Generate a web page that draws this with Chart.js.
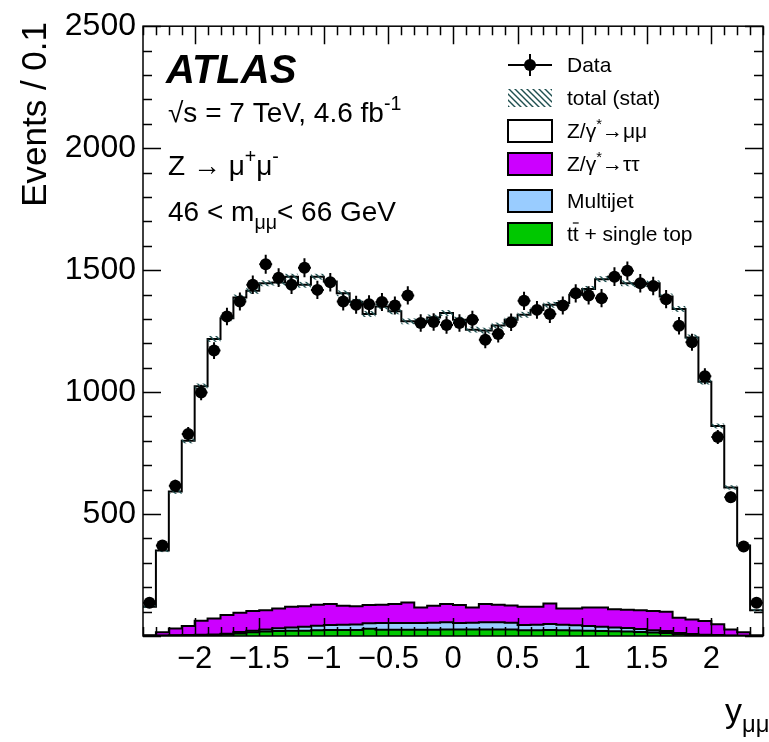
<!DOCTYPE html>
<html>
<head>
<meta charset="utf-8">
<script src="https://cdn.jsdelivr.net/npm/chart.js@4.4.0/dist/chart.umd.min.js"></script>
<style>
  html, body { margin: 0; padding: 0; background: #fff; }
  #wrap { width: 769px; height: 742px; }
</style>
</head>
<body>
<div id="wrap"><canvas id="grafico" width="769" height="742"></canvas></div>
<script>
// bins of rapidity y_mumu, width 0.1
const binEdges = [
  -2.4, -2.3, -2.2, -2.1, -2.0, -1.9, -1.8, -1.7, -1.6, -1.5, -1.4, -1.3, -1.2,
  -1.1, -1.0, -0.9, -0.8, -0.7, -0.6, -0.5, -0.4, -0.3, -0.2, -0.1, 0.0,
  0.1, 0.2, 0.3, 0.4, 0.5, 0.6, 0.7, 0.8, 0.9, 1.0, 1.1, 1.2,
  1.3, 1.4, 1.5, 1.6, 1.7, 1.8, 1.9, 2.0, 2.1, 2.2, 2.3, 2.4,
];

const dataEvents = [
  136, 371, 616, 828, 998, 1170, 1310, 1371, 1440, 1524, 1469, 1440,
  1510, 1419, 1450, 1371, 1358, 1360, 1369, 1355, 1396, 1283, 1287, 1275,
  1283, 1297, 1215, 1238, 1286, 1374, 1337, 1320, 1355, 1405, 1396, 1385,
  1473, 1497, 1446, 1435, 1381, 1272, 1204, 1065, 816, 569, 367, 136,
];

const zmumu = [
  117, 336, 561, 759, 961, 1146, 1217, 1293, 1313, 1340, 1336, 1353,
  1318, 1345, 1322, 1281, 1248, 1193, 1223, 1200, 1153, 1173, 1182, 1193,
  1170, 1139, 1121, 1145, 1172, 1197, 1217, 1225, 1252, 1286, 1306, 1346,
  1363, 1338, 1336, 1343, 1293, 1266, 1156, 981, 813, 582, 356, 103,
];

const ztautau = [
  2, 13, 28, 37, 58, 66, 77, 79, 80, 79, 81, 85,
  84, 86, 86, 78, 75, 75, 75, 78, 84, 64, 70, 75,
  74, 63, 75, 72, 71, 75, 74, 84, 67, 69, 76, 79,
  75, 75, 77, 79, 79, 63, 60, 56, 44, 25, 14, 3,
];

const multijet = [
  1, 1, 1, 2, 2, 2, 3, 6, 7, 9, 12, 13,
  16, 18, 20, 21, 22, 22, 27, 27, 27, 27, 28, 29,
  26, 27, 29, 29, 27, 21, 22, 24, 22, 21, 19, 17,
  16, 15, 13, 10, 8, 5, 4, 2, 2, 1, 0, 0,
];

const ttbar = [
  0, 1, 2, 2, 3, 4, 6, 10, 15, 18, 20, 22,
  22, 24, 25, 25, 25, 30, 26, 26, 26, 26, 26, 27,
  27, 27, 27, 27, 27, 24, 24, 25, 24, 23, 22, 21,
  19, 18, 16, 14, 12, 7, 4, 3, 2, 1, 1, 0,
];

// MC statistical uncertainty (half width of hatched band)
const mcStatErr = [
  5, 7, 9, 10, 11, 12, 12, 12, 12, 12, 12, 12,
  12, 12, 12, 12, 12, 12, 12, 12, 12, 12, 12, 12,
  12, 12, 12, 12, 12, 12, 12, 12, 12, 12, 12, 12,
  12, 12, 12, 12, 12, 12, 12, 11, 10, 9, 7, 5,
];

const yTickLabels = [0, 500, 1000, 1500, 2000, 2500];
const xTickLabels = [-2, -1.5, -1, -0.5, 0, 0.5, 1, 1.5, 2];

const colores = {
  ttbar: "#00c800",
  multijet: "#99ccff",
  ztautau: "#cc00ff",
  zmumu: "#ffffff",
  hatch: "#1f4f4f",
};

const FONT = "'Liberation Sans', Arial, Helvetica, sans-serif";

/* hatch pattern for total (stat) */
function crearTrama() {
  const c = document.createElement("canvas");
  c.width = 6;
  c.height = 6;
  const g = c.getContext("2d");
  g.strokeStyle = colores.hatch;
  g.lineWidth = 1.4;
  g.beginPath();
  g.moveTo(-1, -1);
  g.lineTo(7, 7);
  g.moveTo(-1, 5);
  g.lineTo(1, 7);
  g.moveTo(5, -1);
  g.lineTo(7, 1);
  g.stroke();
  return g.createPattern(c, "repeat");
}

const trama = crearTrama();

function histo(valores) {
  return binEdges.map((e, i) => ({ x: e, y: valores[Math.min(i, valores.length - 1)] }));
}

const puntos = dataEvents.map((v, i) => ({
  x: (binEdges[i] + binEdges[i + 1]) / 2,
  y: v,
}));

function capaMC(label, valores, color, fill) {
  return {
    label: label,
    data: histo(valores),
    stepped: "before",
    borderColor: "#000",
    borderWidth: 2,
    backgroundColor: color,
    fill: fill,
    pointRadius: 0,
    stack: "mc",
  };
}

/* draw text with super/subscripts: parts = [[text, "n"|"sup"|"sub"], ...] */
function textoRico(ctx, parts, x, y, size) {
  let cx = x;
  parts.forEach(([t, kind]) => {
    let s = size;
    let dy = 0;
    if (kind === "sup") { s = size * 0.7; dy = -size * 0.42; }
    if (kind === "sub") { s = size * 0.7; dy = size * 0.28; }
    ctx.font = s + "px " + FONT;
    ctx.fillText(t, cx, y + dy);
    cx += ctx.measureText(t).width;
  });
  return cx;
}

const bandaYErrores = {
  id: "bandaYErrores",
  beforeDatasetDraw(chart, args) {
    if (args.index !== 4) return;
    const { ctx, scales } = chart;
    const x = scales.x;
    const y = scales.y;
    const area = chart.chartArea;
    ctx.save();
    ctx.beginPath();
    ctx.rect(area.left, area.top, area.right - area.left, area.bottom - area.top);
    ctx.clip();

    ctx.fillStyle = trama;
    for (let i = 0; i < dataEvents.length; i++) {
      const total = ttbar[i] + multijet[i] + ztautau[i] + zmumu[i];
      const x0 = x.getPixelForValue(binEdges[i]);
      const x1 = x.getPixelForValue(binEdges[i + 1]);
      const yA = y.getPixelForValue(total + mcStatErr[i]);
      const yB = y.getPixelForValue(total - mcStatErr[i]);
      ctx.fillRect(x0, yA, x1 - x0, yB - yA);
    }

    ctx.strokeStyle = "#000";
    ctx.lineWidth = 2;
    ctx.beginPath();
    for (let i = 0; i < dataEvents.length; i++) {
      const n = dataEvents[i];
      const err = Math.sqrt(n);
      const xc = x.getPixelForValue(puntos[i].x);
      ctx.moveTo(xc, y.getPixelForValue(n - err));
      ctx.lineTo(xc, y.getPixelForValue(n + err));
      ctx.moveTo(x.getPixelForValue(binEdges[i]), y.getPixelForValue(n));
      ctx.lineTo(x.getPixelForValue(binEdges[i + 1]), y.getPixelForValue(n));
    }
    ctx.stroke();
    ctx.restore();
  },
};

const marcoYTextos = {
  id: "marcoYTextos",
  afterDraw(chart) {
    const { ctx, scales } = chart;
    const x = scales.x;
    const y = scales.y;
    const a = chart.chartArea;
    ctx.save();

    /* ======= frame and inward ticks ======= */
    ctx.strokeStyle = "#000";
    ctx.lineWidth = 1.5;
    ctx.strokeRect(a.left, a.top, a.right - a.left, a.bottom - a.top);
    ctx.beginPath();
    for (let v = 0; v <= 2500; v += 100) {
      const py = Math.round(y.getPixelForValue(v)) + 0.5;
      const len = yTickLabels.includes(v) ? 18 : 9;
      ctx.moveTo(a.left, py);
      ctx.lineTo(a.left + len, py);
      ctx.moveTo(a.right, py);
      ctx.lineTo(a.right - len, py);
    }
    for (let k = -24; k <= 24; k++) {
      const v = k / 10;
      const px = Math.round(x.getPixelForValue(v)) + 0.5;
      const len = k % 5 === 0 ? 18 : 9;
      ctx.moveTo(px, a.bottom);
      ctx.lineTo(px, a.bottom - len);
      ctx.moveTo(px, a.top);
      ctx.lineTo(px, a.top + len);
    }
    ctx.stroke();

    ctx.fillStyle = "#000";
    ctx.textAlign = "left";
    ctx.textBaseline = "alphabetic";

    /* ======= axis titles ======= */
    ctx.save();
    ctx.translate(46, 22);
    ctx.rotate(-Math.PI / 2);
    ctx.textAlign = "right";
    ctx.font = "35px " + FONT;
    ctx.fillText("Events / 0.1", 0, 0);
    ctx.restore();

    textoRico(ctx, [["y", "n"], ["\u03bc\u03bc", "sub"]], 725, 722, 34);

    /* ======= labels ======= */
    ctx.font = "italic bold 40px " + FONT;
    ctx.fillText("ATLAS", 166, 83);
    textoRico(ctx, [["\u221as = 7 TeV, 4.6 fb", "n"], ["-1", "sup"]], 168, 122, 28);
    textoRico(ctx, [["Z \u2192 \u03bc", "n"], ["+", "sup"], ["\u03bc", "n"], ["-", "sup"]], 168, 175, 28);
    textoRico(ctx, [["46 < m", "n"], ["\u03bc\u03bc", "sub"], ["< 66 GeV", "n"]], 168, 221, 28);

    /* ======= legend ======= */
    const bx0 = 508;
    const bw = 44;
    const tx = 567;
    const fs = 21;
    const filas = [65, 98, 131, 164, 201, 234];

    // Data
    ctx.lineWidth = 2;
    ctx.beginPath();
    ctx.moveTo(bx0, filas[0]);
    ctx.lineTo(bx0 + bw, filas[0]);
    ctx.moveTo(bx0 + bw / 2, filas[0] - 11);
    ctx.lineTo(bx0 + bw / 2, filas[0] + 11);
    ctx.stroke();
    ctx.beginPath();
    ctx.arc(bx0 + bw / 2, filas[0], 6, 0, Math.PI * 2);
    ctx.fill();

    // total (stat)
    ctx.fillStyle = trama;
    ctx.fillRect(bx0, filas[1] - 9, bw, 18);
    ctx.fillStyle = "#000";

    const cajas = [
      [filas[2], colores.zmumu],
      [filas[3], colores.ztautau],
      [filas[4], colores.multijet],
      [filas[5], colores.ttbar],
    ];
    cajas.forEach(([fy, col]) => {
      ctx.fillStyle = col;
      ctx.fillRect(bx0, fy - 11, bw, 22);
      ctx.strokeStyle = "#000";
      ctx.lineWidth = 2;
      ctx.strokeRect(bx0, fy - 11, bw, 22);
    });
    ctx.fillStyle = "#000";

    const base = 7;
    textoRico(ctx, [["Data", "n"]], tx, filas[0] + base, fs);
    textoRico(ctx, [["total (stat)", "n"]], tx, filas[1] + base, fs);
    textoRico(ctx, [["Z/\u03b3", "n"], ["*", "sup"], ["\u2192\u03bc\u03bc", "n"]], tx, filas[2] + base, fs);
    textoRico(ctx, [["Z/\u03b3", "n"], ["*", "sup"], ["\u2192\u03c4\u03c4", "n"]], tx, filas[3] + base, fs);
    textoRico(ctx, [["Multijet", "n"]], tx, filas[4] + base, fs);

    ctx.font = fs + "px " + FONT;
    const wt = ctx.measureText("t").width;
    ctx.fillText("tt + single top", tx, filas[5] + base);
    ctx.lineWidth = 1.2;
    ctx.beginPath();
    ctx.moveTo(tx + wt, filas[5] + base - 18);
    ctx.lineTo(tx + 2 * wt, filas[5] + base - 18);
    ctx.stroke();

    ctx.restore();
  },
};

const canvas = document.getElementById("grafico");

new Chart(canvas, {
  type: "line",
  data: {
    datasets: [
      capaMC("tt + single top", ttbar, colores.ttbar, "origin"),
      capaMC("Multijet", multijet, colores.multijet, "-1"),
      capaMC("Z/γ*→ττ", ztautau, colores.ztautau, "-1"),
      capaMC("Z/γ*→μμ", zmumu, colores.zmumu, "-1"),
      {
        label: "Data",
        data: puntos,
        showLine: false,
        pointRadius: 6,
        pointHoverRadius: 6,
        pointBackgroundColor: "#000",
        pointBorderWidth: 0,
        borderColor: "#000",
        stack: "data",
        order: -1,
      },
    ],
  },
  options: {
    responsive: false,
    animation: false,
    events: [],
    layout: { padding: { top: 24, right: 1, left: 0, bottom: 0 } },
    plugins: {
      legend: { display: false },
      tooltip: { enabled: false },
    },
    scales: {
      x: {
        type: "linear",
        min: -2.4,
        max: 2.4,
        grid: { display: false, drawTicks: false },
        border: { display: false },
        afterBuildTicks: (scale) => {
          scale.ticks = xTickLabels.map((v) => ({ value: v }));
        },
        afterFit: (scale) => {
          scale.height = 106;
        },
        ticks: {
          autoSkip: false,
          maxRotation: 0,
          padding: 5,
          color: "#000",
          font: { family: FONT, size: 31 },
          callback: (v) => (v < 0 ? "\u2212" + Math.abs(v) : String(v)),
        },
      },
      y: {
        stacked: true,
        min: 0,
        max: 2500,
        grid: { display: false, drawTicks: false },
        border: { display: false },
        afterBuildTicks: (scale) => {
          scale.ticks = yTickLabels.map((v) => ({ value: v }));
        },
        afterFit: (scale) => {
          scale.width = 143;
        },
        ticks: {
          padding: 7,
          color: "#000",
          font: { family: FONT, size: 32 },
          callback: (v) => (v === 0 ? "" : String(v)),
        },
      },
    },
  },
  plugins: [bandaYErrores, marcoYTextos],
});
</script>
</body>
</html>
